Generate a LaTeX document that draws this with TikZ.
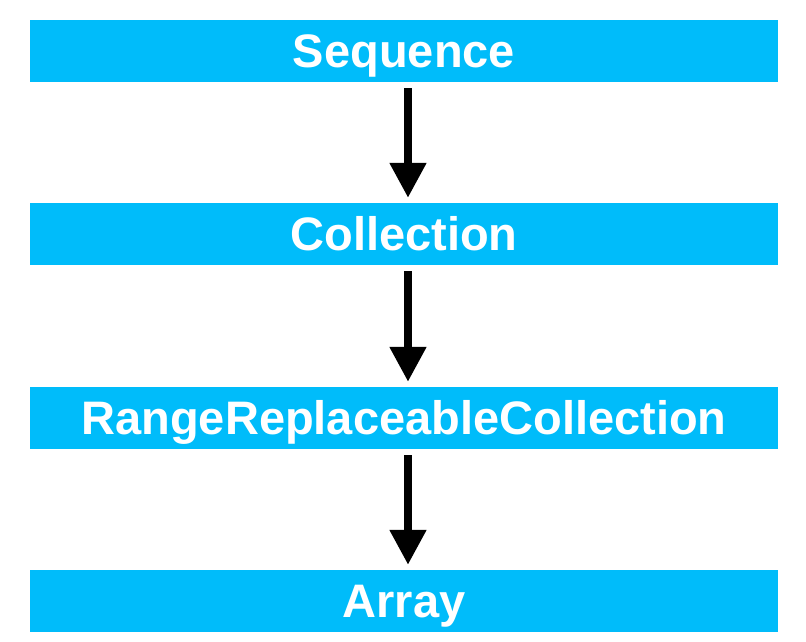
\documentclass[tikz,border=0pt]{standalone}
\usepackage{fontspec}
\setmainfont{Liberation Sans}
\usetikzlibrary{arrows.meta}
\definecolor{barblue}{RGB}{0,188,250}
\begin{document}
\begin{tikzpicture}[x=1pt,y=-1pt,
  bar/.style={fill=barblue, minimum width=748pt, minimum height=62pt, inner sep=0pt,
    text=white, font=\fontsize{47}{50}\selectfont\bfseries, text height=33.6pt, text depth=0pt},
  link/.style={line width=8pt, -{Triangle[width=35pt,length=35pt]}, shorten <=6pt, shorten >=5pt}]
\useasboundingbox (0,0) rectangle (806,642);
\node[bar] (seq) at (404,51) {Sequence};
\node[bar] (col) at (404,234) {Collection};
\node[bar] (rrc) at (404,418) {RangeReplaceableCollection};
\node[bar] (arr) at (404,601) {Array};
\draw[link] ([xshift=4pt]seq.south) -- ([xshift=4pt]col.north);
\draw[link] ([xshift=4pt]col.south) -- ([xshift=4pt]rrc.north);
\draw[link] ([xshift=4pt]rrc.south) -- ([xshift=4pt]arr.north);
\end{tikzpicture}
\end{document}
